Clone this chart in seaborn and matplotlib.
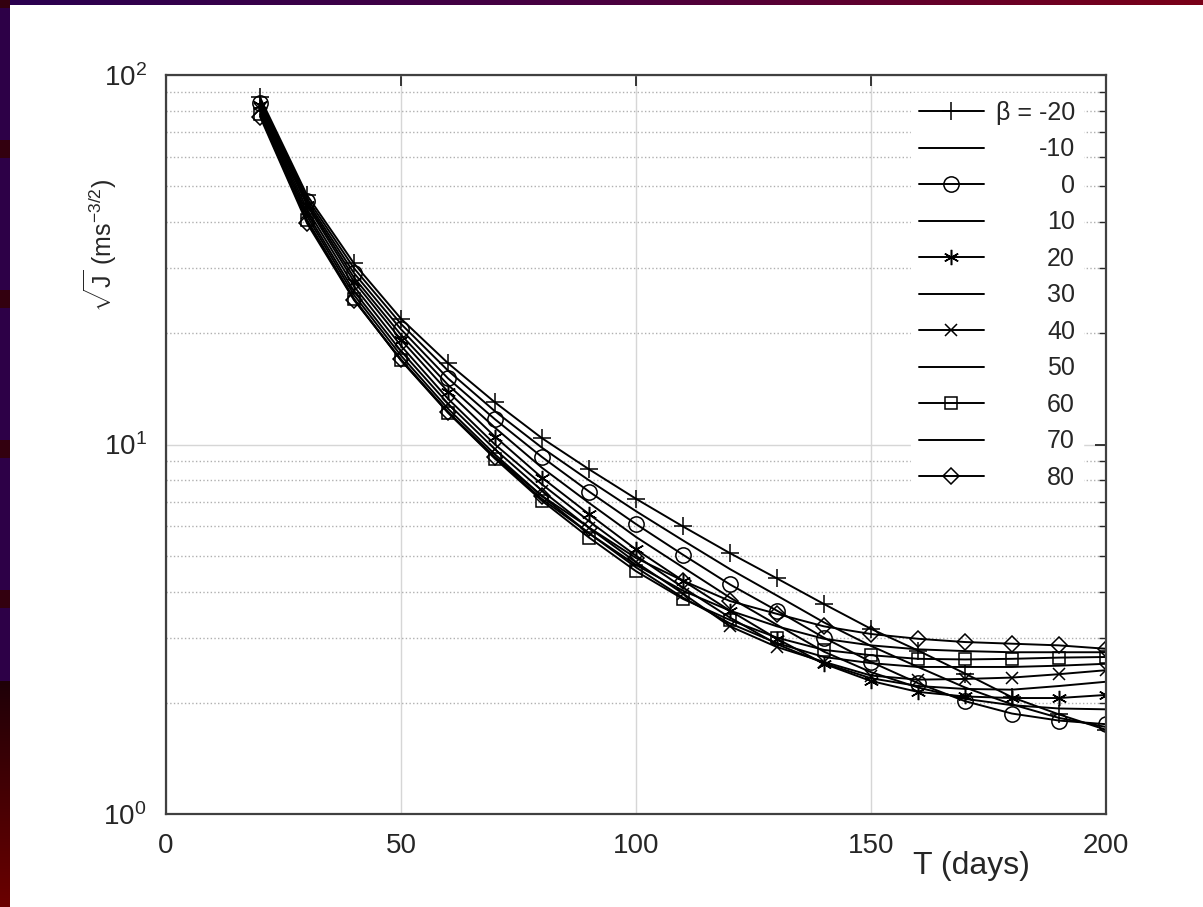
import numpy as np
import pandas as pd
import matplotlib
matplotlib.use("Agg")
import matplotlib.pyplot as plt
import seaborn as sns
from matplotlib.ticker import LogLocator, NullFormatter, FixedLocator
from matplotlib.colors import LinearSegmentedColormap

# ---------------- data ----------------
T_days = [20, 30, 40, 50, 60, 70, 80, 90, 100, 110, 120, 130, 140, 150, 160, 170, 180, 190, 200]

beta_m20 = [87.0, 47.3, 30.9, 21.9, 16.6, 13.0, 10.4, 8.57, 7.13, 6.00, 5.08, 4.34, 3.70, 3.17, 2.77, 2.40, 2.07, 1.86, 1.69]
beta_m10 = [85.5, 46.4, 30.0, 21.2, 15.85, 12.3, 9.80, 8.00, 6.60, 5.50, 4.60, 3.90, 3.30, 2.85, 2.50, 2.20, 1.98, 1.82, 1.72]
beta_0 = [84.2, 45.6, 29.1, 20.5, 15.1, 11.7, 9.25, 7.46, 6.09, 5.03, 4.18, 3.55, 3.00, 2.58, 2.26, 2.02, 1.87, 1.79, 1.75]
beta_10 = [83.5, 45.0, 28.3, 19.8, 14.5, 11.1, 8.65, 6.95, 5.62, 4.65, 3.85, 3.25, 2.75, 2.42, 2.20, 2.05, 1.97, 1.93, 1.92]
beta_20 = [82.8, 44.4, 27.6, 19.2, 13.9, 10.5, 8.13, 6.48, 5.20, 4.28, 3.55, 2.98, 2.55, 2.29, 2.14, 2.08, 2.06, 2.06, 2.10]
beta_30 = [82.0, 43.3, 26.8, 18.5, 13.3, 10.0, 7.80, 6.20, 5.00, 4.10, 3.40, 2.88, 2.56, 2.33, 2.22, 2.18, 2.17, 2.22, 2.28]
beta_40 = [81.0, 42.3, 26.0, 17.9, 12.9, 9.70, 7.50, 5.95, 4.80, 3.95, 3.22, 2.83, 2.58, 2.37, 2.31, 2.32, 2.34, 2.39, 2.45]
beta_50 = [79.8, 41.5, 25.4, 17.4, 12.5, 9.40, 7.25, 5.75, 4.65, 3.85, 3.28, 2.90, 2.66, 2.56, 2.50, 2.50, 2.50, 2.52, 2.55]
beta_60 = [78.5, 40.6, 24.8, 16.9, 12.2, 9.15, 7.04, 5.60, 4.54, 3.82, 3.35, 3.00, 2.78, 2.69, 2.63, 2.62, 2.63, 2.65, 2.66]
beta_70 = [78.0, 40.2, 24.7, 16.9, 12.2, 9.20, 7.12, 5.75, 4.72, 4.02, 3.55, 3.22, 2.98, 2.86, 2.79, 2.76, 2.74, 2.74, 2.74]
beta_80 = [77.2, 39.7, 24.6, 17.0, 12.25, 9.25, 7.26, 5.96, 4.93, 4.28, 3.77, 3.48, 3.22, 3.07, 2.98, 2.92, 2.89, 2.86, 2.80]

series = [beta_m20, beta_m10, beta_0, beta_10, beta_20, beta_30,
          beta_40, beta_50, beta_60, beta_70, beta_80]
legend_labels = ["β = -20", "-10", "0", "10", "20", "30", "40", "50", "60", "70", "80"]
marker_list = ["+", None, "o", None, (6, 2, 0), None, "x", None, "s", None, "D"]
marker_sizes = [13, 0, 11, 0, 11, 0, 9, 0, 8, 0, 8]

x_ticks = [0, 50, 100, 150, 200]

# ---------------- style ----------------
sns.set_theme(style="white")
plt.rcParams["font.family"] = ["Liberation Sans", "DejaVu Sans"]
plt.rcParams["mathtext.fontset"] = "custom"
plt.rcParams["mathtext.rm"] = "Liberation Sans"
plt.rcParams["mathtext.it"] = "Liberation Sans:italic"
plt.rcParams["mathtext.bf"] = "Liberation Sans:bold"
plt.rcParams["mathtext.sf"] = "Liberation Sans"

W, H = 1203, 907
fig = plt.figure(figsize=(W / 100, H / 100), dpi=100)
fig.patch.set_facecolor("white")

# decorative border strips (top and left) as in the reference image
top_ax = fig.add_axes([0, 1 - 5 / H, 1, 5 / H])
grad = np.linspace(0, 1, 256).reshape(1, -1)
cm_top = LinearSegmentedColormap.from_list("top", ["#2a0050", "#4a0040", "#7a0018"])
top_ax.imshow(grad, aspect="auto", cmap=cm_top)
top_ax.axis("off")

left_ax = fig.add_axes([0, 0, 10 / W, 1])
ycols = []
n = 907
for i in range(n):
    if i > 680:
        f = (i - 680) / (n - 680)
        ycols.append([0.12 + 0.3 * f, 0.0, 0.03 * (1 - f)])
    elif (i % 150) in range(140, 150) or (i % 150) < 8:
        ycols.append([0.2, 0.0, 0.06])
    else:
        ycols.append([0.18, 0.0, 0.28])
left_ax.imshow(np.array(ycols).reshape(n, 1, 3), aspect="auto")
left_ax.axis("off")

ax = fig.add_axes([166 / W, 1 - 814 / H, (1106 - 166) / W, (814 - 75) / H])

for vals, m, ms, lab in zip(series, marker_list, marker_sizes, legend_labels):
    df = pd.DataFrame({"T": T_days, "J": vals})
    kw = {}
    if m is not None:
        kw = dict(marker=m, markersize=ms, markerfacecolor="none",
                  markeredgecolor="black", markeredgewidth=1.1)
    sns.lineplot(data=df, x="T", y="J", ax=ax, color="black", linewidth=1.4,
                 label=lab, sort=False, **kw)

ax.set_yscale("log")
ax.set_xlim(0, 200)
ax.set_ylim(1, 100)
ax.xaxis.set_major_locator(FixedLocator(x_ticks))
ax.yaxis.set_major_locator(LogLocator(base=10, numticks=5))
ax.yaxis.set_minor_locator(LogLocator(base=10, subs=np.arange(2, 10), numticks=20))
ax.yaxis.set_minor_formatter(NullFormatter())

ax.grid(True, which="major", color="#d6d6d6", linewidth=1.0, linestyle="-")
ax.grid(True, which="minor", axis="y", color="#b0b0b0", linewidth=1.0, linestyle=":")
ax.set_axisbelow(True)

ax.tick_params(which="both", direction="in", top=True, right=True,
               colors="#262626", labelcolor="#262626")
ax.tick_params(which="major", length=8, width=1.3, labelsize=20, pad=14)
ax.tick_params(which="minor", length=5, width=1.0)
for s in ax.spines.values():
    s.set_color("#404040")
    s.set_linewidth(1.6)

ax.set_xlabel("T (days)", fontsize=23, color="#262626")
ax.xaxis.set_label_coords(0.857, -0.05)
ax.set_ylabel(r"$\sqrt{\mathrm{J}}$ (ms$^{-3/2}$)", fontsize=18, color="#262626")
ax.yaxis.set_label_coords(-0.05, 0.77)

leg = ax.legend(loc="upper right", bbox_to_anchor=(0.975, 0.975), frameon=True,
                fancybox=False, edgecolor="white", facecolor="white", framealpha=1,
                fontsize=18, handlelength=2.6, labelspacing=0.5, borderpad=0.3,
                handletextpad=0.48, borderaxespad=0)
for t in leg.get_texts():
    t.set_color("#262626")

# right-align legend texts (MATLAB style)
fig.canvas.draw()
renderer = fig.canvas.get_renderer()
cols = leg._legend_handle_box.get_children()
for col in cols:
    items = col.get_children()
    wmax = max(it.get_bbox(renderer).width for it in items)
    for it in items:
        it.mode = "expand"
        it.width = wmax

fig.savefig("out.png", dpi=100, facecolor="white")
